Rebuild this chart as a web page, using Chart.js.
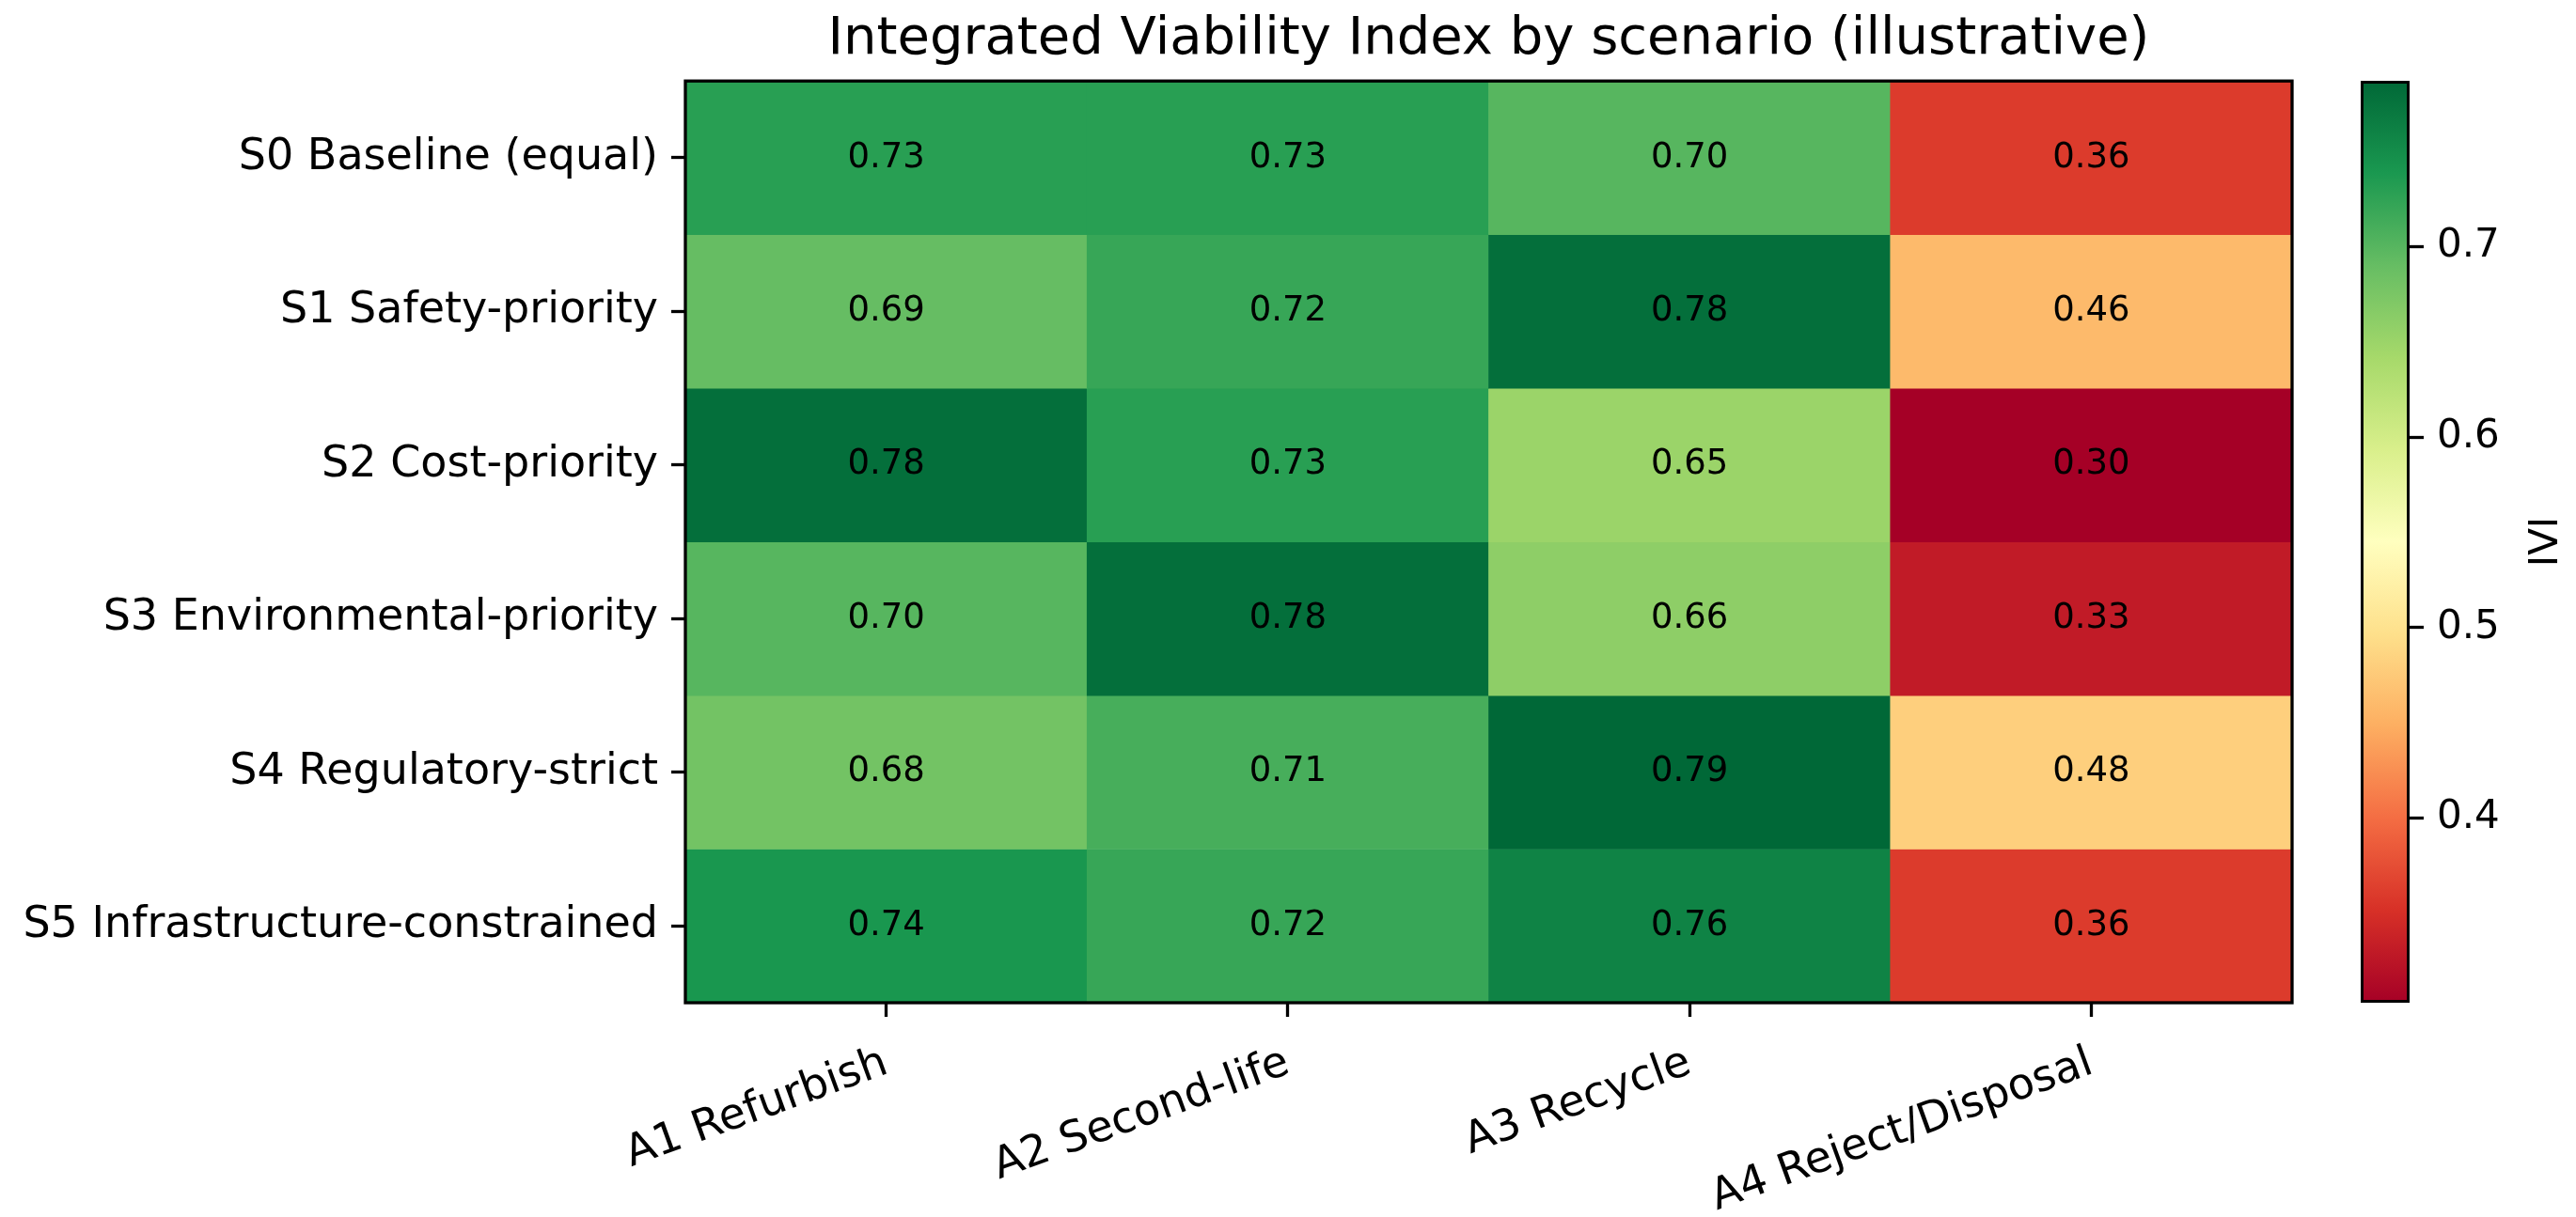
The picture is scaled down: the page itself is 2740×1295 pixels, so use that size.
<!DOCTYPE html>
<html>
<head>
<meta charset="utf-8">
<title>Integrated Viability Index by scenario</title>
<script src="https://cdn.jsdelivr.net/npm/chart.js@4.4.1/dist/chart.umd.min.js"></script>
<style>
  html, body { margin: 0; padding: 0; background: #fff; }
  #wrap { position: relative; width: 2740px; height: 1295px; }
  #mainBox { position: absolute; left: 0; top: 0; width: 2740px; height: 1295px; }
  #cbarBox { position: absolute; left: 2440px; top: 0; width: 300px; height: 1295px; }
</style>
</head>
<body>
<div id="wrap">
  <div id="mainBox"><canvas id="heat"></canvas></div>
  <div id="cbarBox"><canvas id="cbar"></canvas></div>
</div>
<script>
/* ---------- data ---------- */
const scenarios = [
  'S0 Baseline (equal)',
  'S1 Safety-priority',
  'S2 Cost-priority',
  'S3 Environmental-priority',
  'S4 Regulatory-strict',
  'S5 Infrastructure-constrained'
];
const alternatives = ['A1 Refurbish', 'A2 Second-life', 'A3 Recycle', 'A4 Reject/Disposal'];

// one row per scenario, one value per alternative
const iviS0 = [0.73, 0.73, 0.70, 0.36];
const iviS1 = [0.69, 0.72, 0.78, 0.46];
const iviS2 = [0.78, 0.73, 0.65, 0.30];
const iviS3 = [0.70, 0.78, 0.66, 0.33];
const iviS4 = [0.68, 0.71, 0.79, 0.48];
const iviS5 = [0.74, 0.72, 0.76, 0.36];
const ivi = [iviS0, iviS1, iviS2, iviS3, iviS4, iviS5];

// colour range of the colour bar and its ticks
const cbMin = 0.303;
const cbMax = 0.787;
const cbTicks = [0.4, 0.5, 0.6, 0.7];

/* ---------- RdYlGn colour map ---------- */
const rdylgn = ['#a50026', '#d73027', '#f46d43', '#fdae61', '#fee08b', '#ffffbf',
                '#d9ef8b', '#a6d96a', '#66bd63', '#1a9850', '#006837'];
const hexRgb = h => [1, 3, 5].map(i => parseInt(h.substr(i, 2), 16));
const cmap = v => {
  let t = (v - cbMin) / (cbMax - cbMin);
  t = Math.max(0, Math.min(1, t));
  const p = t * 10;
  const i = Math.min(9, Math.floor(p));
  const f = p - i;
  const a = hexRgb(rdylgn[i]), b = hexRgb(rdylgn[i + 1]);
  const c = a.map((x, k) => Math.round(x + (b[k] - x) * f));
  return `rgb(${c[0]},${c[1]},${c[2]})`;
};

Chart.defaults.font.family = "'DejaVu Sans', sans-serif";
Chart.defaults.color = '#000';

const LW = 3.3;

/* ---------- plugins ---------- */
const cellText = {
  id: 'cellText',
  afterDatasetsDraw(chart) {
    const ctx = chart.ctx;
    ctx.save();
    ctx.font = "37px 'DejaVu Sans'";
    ctx.fillStyle = '#000';
    ctx.textAlign = 'center';
    ctx.textBaseline = 'middle';
    chart.data.datasets.forEach((ds, r) => {
      chart.getDatasetMeta(r).data.forEach((el, c) => {
        ctx.fillText(ivi[r][c].toFixed(2), el.x, (el.y + el.base) / 2);
      });
    });
    ctx.restore();
  }
};

const frame = {
  id: 'frame',
  afterDraw(chart) {
    const a = chart.chartArea, ctx = chart.ctx;
    ctx.save();
    ctx.strokeStyle = '#000';
    ctx.lineWidth = LW;
    ctx.strokeRect(a.left, a.top, a.right - a.left, a.bottom - a.top);
    ctx.restore();
  }
};

/* ---------- heat map ---------- */
new Chart(document.getElementById('heat'), {
  type: 'bar',
  data: {
    labels: alternatives,
    datasets: ivi.map((row, r) => ({
      label: scenarios[r],
      data: row.map(() => [r, r + 1]),
      backgroundColor: row.map(cmap),
      borderWidth: 0,
      grouped: false,
      barPercentage: 1,
      categoryPercentage: 1
    }))
  },
  options: {
    responsive: true,
    maintainAspectRatio: false,
    animation: false,
    layout: { padding: { left: 0, right: 302, top: 0, bottom: 0 } },
    plugins: {
      legend: { display: false },
      tooltip: { enabled: false },
      title: {
        display: true,
        fullSize: false,
        text: 'Integrated Viability Index by scenario (illustrative)',
        color: '#000',
        font: { size: 56, weight: 'normal' },
        padding: { top: 9, bottom: 10 }
      }
    },
    scales: {
      x: {
        type: 'category',
        offset: true,
        grid: { offset: false, drawOnChartArea: false, tickLength: 15, tickWidth: LW, tickColor: '#000' },
        border: { display: false },
        ticks: { font: { size: 46 }, maxRotation: 20, minRotation: 20, padding: 22, autoSkip: false },
        afterFit: s => { s.height = 228; }
      },
      y: {
        type: 'linear',
        min: 0,
        max: scenarios.length,
        reverse: true,
        afterBuildTicks: s => { s.ticks = scenarios.map((_, i) => ({ value: i + 0.5 })); },
        grid: { drawOnChartArea: false, tickLength: 15, tickWidth: LW, tickColor: '#000' },
        border: { display: false },
        ticks: { font: { size: 46 }, padding: 14, callback: (v, i) => scenarios[i] },
        afterFit: s => { s.width = 729; }
      }
    }
  },
  plugins: [cellText, frame]
});

/* ---------- colour bar ---------- */
const cbLabel = {
  id: 'cbLabel',
  afterDraw(chart) {
    const s = chart.scales.y, ctx = chart.ctx;
    ctx.save();
    ctx.font = "42px 'DejaVu Sans'";
    ctx.fillStyle = '#000';
    ctx.textAlign = 'center';
    ctx.textBaseline = 'middle';
    ctx.translate(s.left + 146, (s.top + s.bottom) / 2);
    ctx.rotate(-Math.PI / 2);
    ctx.fillText('IVI', 0, 0);
    ctx.restore();
  }
};

new Chart(document.getElementById('cbar'), {
  type: 'bar',
  data: {
    labels: ['IVI'],
    datasets: [{
      data: [[cbMin, cbMax]],
      backgroundColor: c => {
        const a = c.chart.chartArea;
        if (!a) return '#fff';
        const g = c.chart.ctx.createLinearGradient(0, a.bottom, 0, a.top);
        rdylgn.forEach((col, i) => g.addColorStop(i / 10, col));
        return g;
      },
      borderColor: '#000',
      borderWidth: LW,
      borderSkipped: false,
      barPercentage: 1,
      categoryPercentage: 1
    }]
  },
  options: {
    responsive: true,
    maintainAspectRatio: false,
    animation: false,
    layout: { padding: { left: 71, right: 0, top: 86, bottom: 228 } },
    plugins: { legend: { display: false }, tooltip: { enabled: false } },
    scales: {
      x: { display: false },
      y: {
        type: 'linear',
        position: 'right',
        min: cbMin,
        max: cbMax,
        afterBuildTicks: s => { s.ticks = cbTicks.map(v => ({ value: v })); },
        grid: { drawOnChartArea: false, tickLength: 15, tickWidth: LW, tickColor: '#000' },
        border: { display: false },
        ticks: { font: { size: 42 }, padding: 14, callback: v => v.toFixed(1) },
        afterFit: s => { s.width = 177; }
      }
    }
  },
  plugins: [cbLabel]
});
</script>
</body>
</html>
